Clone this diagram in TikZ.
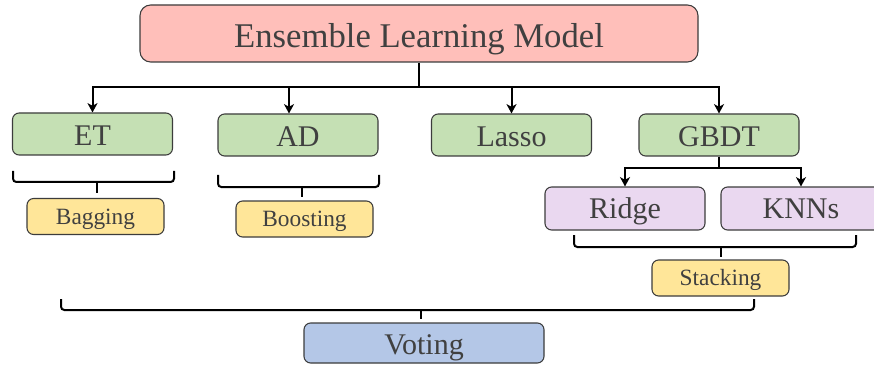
\documentclass[tikz,border=0pt]{standalone}
\usepackage{fontspec}
\setmainfont{Liberation Serif}
\usetikzlibrary{arrows.meta,calc}

\definecolor{txt}{HTML}{404040}
\definecolor{edgecol}{HTML}{3C3C3C}
\definecolor{rootfill}{HTML}{FFBFBA}
\definecolor{modelfill}{HTML}{C5E0B4}
\definecolor{metafill}{HTML}{EAD8F0}
\definecolor{combfill}{HTML}{FFE699}
\definecolor{votefill}{HTML}{B4C7E7}

\begin{document}
\begin{tikzpicture}[x=0.75pt,y=-0.75pt,
  box/.style={draw=edgecol, line width=0.8pt, rounded corners=5pt, text=txt,
              inner sep=0pt, align=center, text depth=0pt},
  rootbox/.style={box, fill=rootfill, rounded corners=8pt,
              minimum width=418.5pt, minimum height=42.75pt, text height=21pt,
              font=\fontsize{26}{29}\selectfont},
  modelbox/.style={box, fill=modelfill, minimum width=120pt, minimum height=31.5pt,
              text height=17.9pt, font=\fontsize{22.5}{26}\selectfont},
  metabox/.style={box, fill=metafill, minimum width=120pt, minimum height=32.25pt,
              text height=15.2pt, font=\fontsize{22.5}{26}\selectfont},
  combbox/.style={box, fill=combfill, minimum width=102.75pt, minimum height=27pt,
              text height=11.6pt, font=\fontsize{17.5}{20}\selectfont},
  votebox/.style={box, fill=votefill, minimum width=180pt, minimum height=30pt,
              text height=17.9pt, font=\fontsize{22.5}{26}\selectfont},
  link/.style={line width=1.5pt, draw=black},
  arr/.style={link, -{Stealth[length=7pt,width=7.5pt,inset=2pt]}},
  brace/.style={line width=1.5pt, draw=black, rounded corners=2.5pt},
]
\clip (0,0) rectangle (874,367);
\fill[white] (0,0) rectangle (874,367);

% nodes
\node[rootbox]  (root)  at (419,33.5)   {Ensemble Learning Model};
\node[modelbox] (ET)    at (92.5,134)   {ET};
\node[modelbox] (AD)    at (298,135)    {AD};
\node[modelbox] (Lasso) at (511.5,135)  {Lasso};
\node[modelbox] (GBDT)  at (719,135)    {GBDT};
\node[metabox]  (Ridge) at (625,208.5)  {Ridge};
\node[metabox]  (KNNs)  at (801,208.5)  {KNNs};
\node[combbox]  (Bag)   at (95.5,216.5) {Bagging};
\node[combbox]  (Boost) at (304.5,219)  {Boosting};
\node[combbox]  (Stack) at (720.5,278)  {Stacking};
\node[votebox]  (Vote)  at (424,343)    {Voting};

% tree from the root to the base models
\coordinate (hub) at (419,87);
\draw[link] (root.south) -- (hub);
\draw[arr] (hub) -| (ET.north);
\draw[arr] (hub) -| ($(AD.north)+(-9,0)$);
\draw[arr] (hub) -| (Lasso.north);
\draw[arr] (hub) -| (GBDT.north);

% GBDT feeds the second-level learners
\coordinate (ghub) at (719,168);
\draw[link] (GBDT.south) -- (ghub);
\draw[arr] (ghub) -| (Ridge.north);
\draw[arr] (ghub) -| (KNNs.north);

% braces grouping models into ensemble strategies
\coordinate (bagTip) at (97,193);
\draw[brace] (13,171) -- (13,182) -- (174,182) -- (174,171);
\draw[link] (97,182) -- (bagTip);

\coordinate (boostTip) at (302,197);
\draw[brace] (218,175) -- (218,187) -- (379,187) -- (379,175);
\draw[link] (302,187) -- (boostTip);

\coordinate (stackTip) at (721,257);
\draw[brace] (574,235) -- (574,247) -- (856,247) -- (856,235);
\draw[link] (721,247) -- (stackTip);

\coordinate (voteTip) at (421,319);
\draw[brace] (61,299) -- (61,310) -- (754,310) -- (754,299);
\draw[link] (421,310) -- (voteTip);
\end{tikzpicture}
\end{document}
